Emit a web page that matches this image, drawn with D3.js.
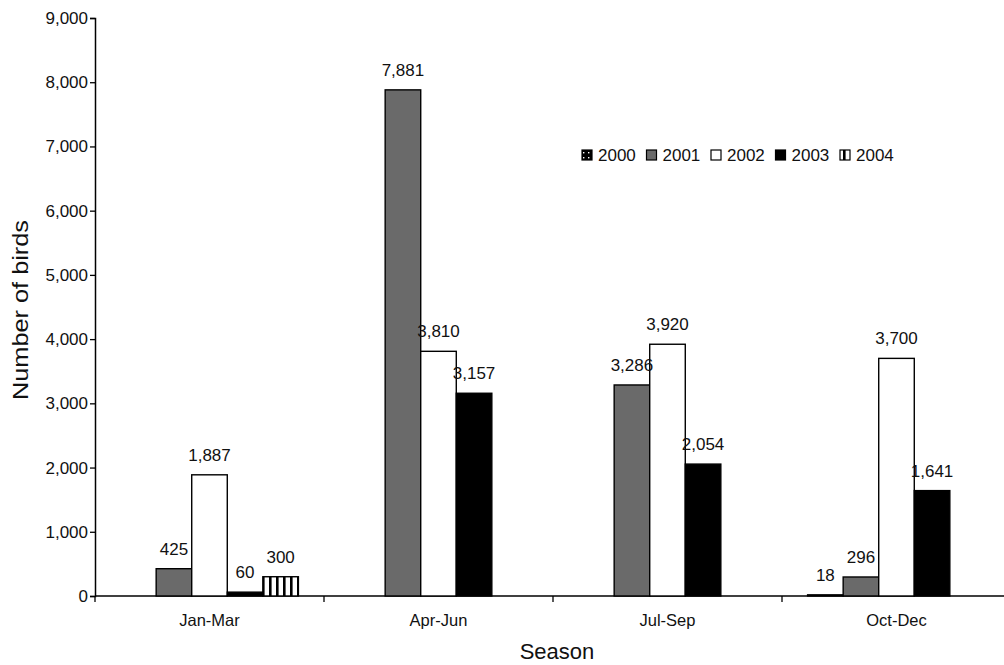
<!DOCTYPE html>
<html>
<head>
<meta charset="utf-8">
<script src="https://cdn.jsdelivr.net/npm/d3@7"></script>
<style>
  body { margin: 0; background: #fff; }
  svg { display: block; font-family: "Liberation Sans", Arial, sans-serif; }
</style>
</head>
<body>
<svg id="chart" width="1004" height="665"></svg>
<script>
const seasons = ["Jan-Mar", "Apr-Jun", "Jul-Sep", "Oct-Dec"];
const years = ["2000", "2001", "2002", "2003", "2004"];
// values per year, aligned with seasons (null = no bar)
const v2000 = [null, null, null, 18];
const v2001 = [425, 7881, 3286, 296];
const v2002 = [1887, 3810, 3920, 3700];
const v2003 = [60, 3157, 2054, 1641];
const v2004 = [300, null, null, null];
const yTicks = [0, 1000, 2000, 3000, 4000, 5000, 6000, 7000, 8000, 9000];

const seriesValues = [v2000, v2001, v2002, v2003, v2004];

const svg = d3.select("#chart");
const defs = svg.append("defs");

// dotted pattern for 2000
const pDots = defs.append("pattern").attr("id", "dots").attr("patternUnits", "userSpaceOnUse")
  .attr("width", 5).attr("height", 5);
pDots.append("rect").attr("width", 5).attr("height", 5).attr("fill", "#000");
pDots.append("rect").attr("x", 1).attr("y", 2).attr("width", 1.4).attr("height", 1.4).attr("fill", "#fff");

// vertical stripes for 2004
const pStr = defs.append("pattern").attr("id", "stripes").attr("patternUnits", "userSpaceOnUse")
  .attr("width", 7).attr("height", 7);
pStr.append("rect").attr("width", 7).attr("height", 7).attr("fill", "#fff");
pStr.append("rect").attr("x", 3).attr("width", 2.6).attr("height", 7).attr("fill", "#000");

const fills = {"2000": "url(#dots)", "2001": "#6a6a6a", "2002": "#fff", "2003": "#000", "2004": "url(#stripes)"};

const x0 = d3.scaleBand().domain(seasons).range([95, 1011]).paddingInner(0).paddingOuter(0);
const x1 = d3.scaleBand().domain(years).range([0, x0.bandwidth()]).paddingOuter(0.72).paddingInner(0);
const y = d3.scaleLinear().domain([0, 9000]).range([596, 18]);

const fmt = d3.format(",");

// y axis
const yAxis = svg.append("g").attr("transform", "translate(95,0)")
  .call(d3.axisLeft(y).tickValues(yTicks).tickFormat(fmt).tickSize(5).tickPadding(2));
yAxis.select(".domain").attr("stroke", "#000").attr("stroke-width", 1.5);
yAxis.selectAll(".tick line").attr("stroke", "#000").attr("stroke-width", 1.3);
yAxis.selectAll("text").attr("font-size", 17).attr("fill", "#111").attr("font-family", "Liberation Sans, Arial, sans-serif");

// x axis with boundary ticks
const xAxisG = svg.append("g").attr("transform", "translate(0,596)");
xAxisG.append("line").attr("x1", 95).attr("x2", 1011).attr("y1", 0).attr("y2", 0)
  .attr("stroke", "#000").attr("stroke-width", 1.5);
xAxisG.selectAll("line.bt").data(seasons.concat(["end"])).enter().append("line")
  .attr("class", "bt")
  .attr("x1", (d, i) => i < seasons.length ? x0(d) : x0(seasons[seasons.length - 1]) + x0.bandwidth())
  .attr("x2", (d, i) => i < seasons.length ? x0(d) : x0(seasons[seasons.length - 1]) + x0.bandwidth())
  .attr("y1", 0).attr("y2", 6).attr("stroke", "#000").attr("stroke-width", 1.3);
xAxisG.selectAll("text.cat").data(seasons).enter().append("text")
  .attr("class", "cat")
  .attr("x", d => x0(d) + x0.bandwidth() / 2).attr("y", 30)
  .attr("text-anchor", "middle").attr("font-size", 16.5).attr("fill", "#111").text(d => d);

// bars
const flat = [];
seasons.forEach((s, si) => {
  years.forEach((yr, yi) => {
    const v = seriesValues[yi][si];
    if (v !== null) flat.push({season: s, year: yr, value: v});
  });
});

svg.append("g").selectAll("rect").data(flat).enter().append("rect")
  .attr("x", d => x0(d.season) + x1(d.year))
  .attr("y", d => y(d.value))
  .attr("width", x1.bandwidth())
  .attr("height", d => y(0) - y(d.value))
  .attr("fill", d => fills[d.year])
  .attr("stroke", "#000").attr("stroke-width", 1.4);

svg.append("g").selectAll("text").data(flat).enter().append("text")
  .attr("x", d => x0(d.season) + x1(d.year) + x1.bandwidth() / 2)
  .attr("y", d => y(d.value) - 14)
  .attr("text-anchor", "middle").attr("font-size", 17).attr("fill", "#111")
  .text(d => fmt(d.value));

// axis titles
svg.append("text").attr("x", 557).attr("y", 659).attr("text-anchor", "middle")
  .attr("font-size", 22).attr("fill", "#111").text("Season");
svg.append("text").attr("transform", "translate(28,310) rotate(-90)").attr("text-anchor", "middle")
  .attr("font-size", 22).attr("textLength", 180).attr("lengthAdjust", "spacingAndGlyphs")
  .attr("fill", "#111").text("Number of birds");

// legend
const legend = svg.append("g").attr("transform", "translate(582,155)");
const lx = d3.scalePoint().domain(years).range([0, 258]);
const li = legend.selectAll("g").data(years).enter().append("g")
  .attr("transform", d => `translate(${lx(d)},0)`);
li.append("rect").attr("x", 0).attr("y", -5).attr("width", 10).attr("height", 10)
  .attr("fill", d => fills[d]).attr("stroke", "#000").attr("stroke-width", 1.2);
li.append("text").attr("x", 16).attr("y", 6).attr("font-size", 17).attr("fill", "#111").text(d => d);
</script>
</body>
</html>
